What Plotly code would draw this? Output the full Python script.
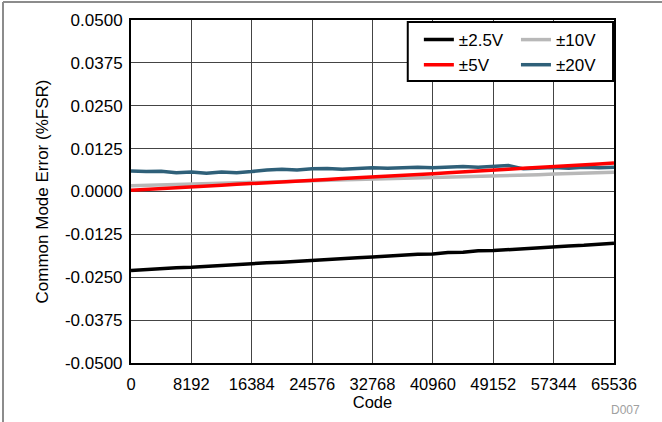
import plotly.graph_objects as go

codes = [i * 2048 for i in range(33)]

v2p5 = [-0.0230, -0.0227, -0.0226, -0.0222, -0.0221, -0.0218, -0.0216, -0.0213,
        -0.0211, -0.0208, -0.0206, -0.0203, -0.0202, -0.0198, -0.0196, -0.0193,
        -0.0191, -0.0188, -0.0187, -0.0183, -0.0182, -0.0178, -0.0177, -0.0173,
        -0.0172, -0.0169, -0.0167, -0.0164, -0.0162, -0.0159, -0.0157, -0.0154, -0.0151]

v5 = [0.0004, 0.0006, 0.0008, 0.0011, 0.0013, 0.0016, 0.0018, 0.0021,
      0.0023, 0.0026, 0.0028, 0.0030, 0.0033, 0.0035, 0.0038, 0.0040,
      0.0043, 0.0045, 0.0048, 0.0050, 0.0052, 0.0055, 0.0057, 0.0060,
      0.0062, 0.0065, 0.0068, 0.0070, 0.0072, 0.0075, 0.0077, 0.0080, 0.0083]

v10 = [0.0017, 0.0018, 0.0019, 0.0021, 0.0022, 0.0023, 0.0024, 0.0025,
       0.0027, 0.0028, 0.0029, 0.0030, 0.0031, 0.0033, 0.0034, 0.0035,
       0.0036, 0.0037, 0.0038, 0.0040, 0.0041, 0.0042, 0.0043, 0.0044,
       0.0046, 0.0047, 0.0048, 0.0049, 0.0051, 0.0052, 0.0053, 0.0055, 0.0056]

v20 = [0.0060, 0.0058, 0.0059, 0.0055, 0.0057, 0.0053, 0.0057, 0.0055,
       0.0058, 0.0063, 0.0065, 0.0063, 0.0066, 0.0067, 0.0065, 0.0068,
       0.0069, 0.0068, 0.0070, 0.0071, 0.0069, 0.0072, 0.0073, 0.0071,
       0.0074, 0.0076, 0.0066, 0.0069, 0.0070, 0.0068, 0.0071, 0.0069, 0.0071]

# (name, values, colour, legend group box, rank within it)
series = [
    ("±20V", v20, "#2f6079", "legend2", 2),
    ("±10V", v10, "#b8b8b8", "legend2", 1),
    ("±5V", v5, "#ff0000", "legend", 2),
    ("±2.5V", v2p5, "#000000", "legend", 1),
]

xticks = [0, 8192, 16384, 24576, 32768, 40960, 49152, 57344, 65536]
yticks = [-0.05, -0.0375, -0.025, -0.0125, 0.0, 0.0125, 0.025, 0.0375, 0.05]

FONT = "Liberation Sans, Arial, sans-serif"

fig = go.Figure()
for name, vals, color, leg, rank in series:
    fig.add_trace(go.Scatter(x=codes, y=vals, mode="lines", name=name,
                             line=dict(color=color, width=3.5),
                             legend=leg, legendrank=rank))

leg_common = dict(orientation="v", xanchor="left", yanchor="top", y=0.994,
                  bgcolor="rgba(0,0,0,0)", borderwidth=0,
                  font=dict(size=17, color="black"), traceorder="normal")

fig.update_layout(
    width=662, height=422,
    margin=dict(l=131, r=48, t=20, b=59),
    paper_bgcolor="white", plot_bgcolor="white",
    font=dict(family=FONT, size=16, color="black"),
    showlegend=True,
    legend=dict(x=0.596, **leg_common),
    legend2=dict(x=0.797, **leg_common),
    xaxis=dict(range=[0, 65536], tickvals=xticks, ticktext=[str(t) for t in xticks],
               showgrid=True, gridcolor="#444444", gridwidth=1,
               showline=True, linecolor="black", linewidth=2, mirror=True,
               ticks="", zeroline=False, tickfont=dict(size=16.5), ticklabelstandoff=5,
               title=dict(text="Code", font=dict(size=16.5), standoff=3)),
    yaxis=dict(range=[-0.05, 0.05], tickvals=yticks, ticktext=[f"{t:.4f}" for t in yticks],
               showgrid=True, gridcolor="#444444", gridwidth=1,
               showline=True, linecolor="black", linewidth=2, mirror=True,
               ticks="", zeroline=False, tickfont=dict(size=17), ticklabelstandoff=3,
               title=dict(text="Common Mode Error (%FSR)", font=dict(size=17), standoff=12)),
    shapes=[
        # legend frame
        dict(type="rect", xref="paper", yref="paper", x0=0.573, x1=0.998, y0=0.822, y1=0.994,
             fillcolor="white", line=dict(color="black", width=2), layer="above"),
        # outer image frame
        dict(type="line", xref="paper", yref="paper", x0=-0.265, x1=1.1, y0=1.0525, y1=1.0525,
             line=dict(color="#8c8c8c", width=2)),
        dict(type="line", xref="paper", yref="paper", x0=-0.265, x1=-0.265, y0=1.0525, y1=-0.18,
             line=dict(color="#8c8c8c", width=2)),
    ],
    annotations=[
        dict(text="D007", xref="paper", yref="paper", x=1.023, y=-0.137,
             xanchor="center", yanchor="middle", showarrow=False,
             font=dict(size=12, color="#a0a0a0")),
    ],
)

fig.write_html("out.html", config={"displayModeBar": False},
               post_script="document.body.style.margin='0';document.body.style.overflow='hidden';")
